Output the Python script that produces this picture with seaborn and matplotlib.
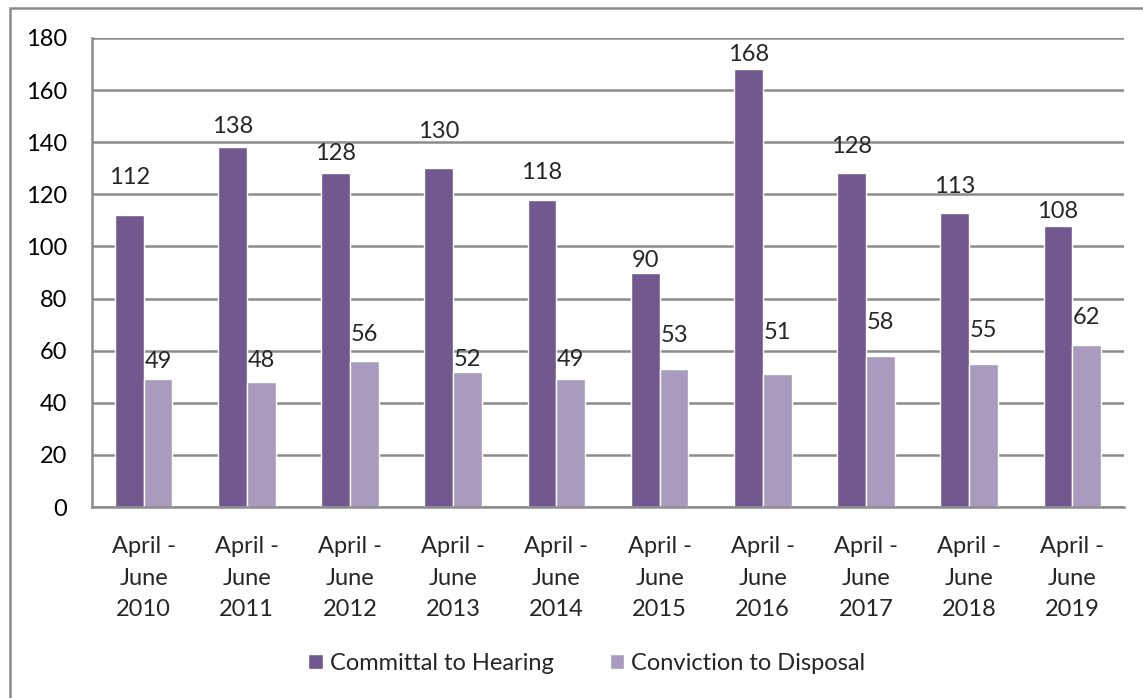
import pandas as pd
import seaborn as sns
import matplotlib.pyplot as plt
from matplotlib.patches import Rectangle
from matplotlib.ticker import FixedLocator, NullFormatter

# Data
years = ["2010", "2011", "2012", "2013", "2014", "2015", "2016", "2017", "2018", "2019"]
periods = [f"April -\nJune\n{y}" for y in years]
committal = [112, 138, 128, 130, 118, 90, 168, 128, 113, 108]
conviction = [49, 48, 56, 52, 49, 53, 51, 58, 55, 62]
series_names = ["Committal to Hearing", "Conviction to Disposal"]

# label lift above each bar top, in pixels (labels were hand placed in the original)
lift_committal = [38, 21, 20, 37, 27, 12, 15, 27, 26, 14]
lift_conviction = [18, 21, 27, 12, 20, 33, 42, 33, 33, 28]

df = pd.DataFrame({
    "period": periods * 2,
    "value": committal + conviction,
    "series": [series_names[0]] * len(periods) + [series_names[1]] * len(periods),
})

sns.set_style("white")
plt.rcParams["font.family"] = ["Lato", "DejaVu Sans"]
FS = 17

fig = plt.figure(figsize=(11.43, 6.98), dpi=100)
ax = fig.add_axes([92 / 1143, 1 - 507 / 698, 1032 / 1143, 469 / 698])

grid_col = "#8c8c8c"
sns.barplot(
    data=df, x="period", y="value", hue="series",
    palette=["#71588F", "#A99BBD"], saturation=1, width=0.56,
    ax=ax, legend=True,
)

ax.set_ylim(0, 180)
ax.set_xlim(-0.5, len(periods) - 0.5)
ax.set_yticks(range(0, 181, 20))
ax.yaxis.grid(True, color=grid_col, linewidth=1.8)
ax.set_axisbelow(True)
ax.set_xlabel("")
ax.set_ylabel("")

for side in ["top", "right"]:
    ax.spines[side].set_visible(False)
for side in ["left", "bottom"]:
    ax.spines[side].set_color(grid_col)
    ax.spines[side].set_linewidth(1.8)

ax.tick_params(axis="y", labelsize=FS, length=7, width=1.8, pad=11, labelcolor="black", color=grid_col)
ax.tick_params(axis="x", which="major", length=0, labelsize=FS, pad=21)
ax.xaxis.set_minor_locator(FixedLocator([i + 0.5 for i in range(-1, len(periods))]))
ax.xaxis.set_minor_formatter(NullFormatter())
ax.tick_params(axis="x", which="minor", length=8, width=1.8, color=grid_col)
for lab in ax.get_xticklabels():
    lab.set_linespacing(1.62)

# data labels
for container, lifts in zip(ax.containers, [lift_committal, lift_conviction]):
    for bar, lift in zip(container, lifts):
        ax.annotate(
            f"{bar.get_height():.0f}",
            (bar.get_x() + bar.get_width() / 2, bar.get_height()),
            xytext=(0, lift), textcoords="offset pixels",
            ha="center", va="center", fontsize=FS,
        )

ax.legend(
    loc="center", bbox_to_anchor=(587 / 1143, 1 - 663 / 698),
    bbox_transform=fig.transFigure, ncol=2, frameon=False,
    fontsize=FS, handlelength=0.6, handleheight=0.6,
    handletextpad=0.3, columnspacing=2.4,
)

# outer chart border
fig.patches.append(Rectangle((10 / 1143, -0.05), 1.2, 1 - 8 / 698 + 0.05,
                             transform=fig.transFigure, fill=False,
                             edgecolor=grid_col, linewidth=1.8))

plt.savefig("out.png", dpi=100)
